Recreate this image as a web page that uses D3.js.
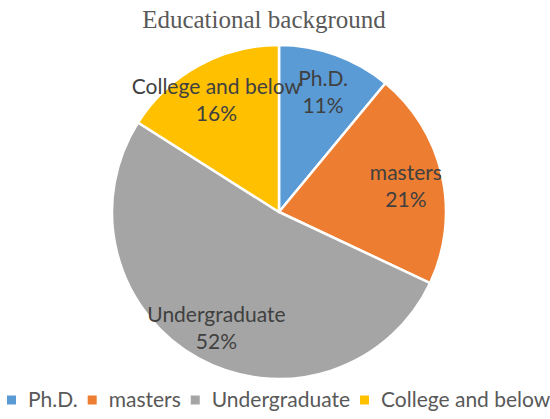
<!DOCTYPE html>
<html>
<head>
<meta charset="utf-8">
<script src="https://cdn.jsdelivr.net/npm/d3@7"></script>
<style>
  body { margin: 0; background: #fff; }
  svg { display: block; }
</style>
</head>
<body>
<div class="chart"></div>
<script>
var svgWidth = 550;
var svgHeight = 419;

// data
var categories = ["Ph.D.", "masters", "Undergraduate", "College and below"];
var shares = [11, 21, 52, 16];
var colors = ["#5B9BD5", "#ED7D31", "#A5A5A5", "#FFC000"];

var cx = 279, cy = 212, radius = 167;
var labelFont = "Lato, 'Open Sans', sans-serif";

var svg = d3.select(".chart")
  .append("svg")
  .attr("width", svgWidth)
  .attr("height", svgHeight);

// title
svg.append("text")
  .attr("x", 264)
  .attr("y", 28)
  .attr("text-anchor", "middle")
  .attr("font-family", "'Liberation Serif', 'Times New Roman', serif")
  .attr("font-size", 25)
  .attr("fill", "#595959")
  .text("Educational background");

var pieData = categories.map(function(c, i) {
  return { name: c, value: shares[i], color: colors[i] };
});

var pie = d3.pie()
  .sort(null)
  .value(d => d.value);

var arc = d3.arc().innerRadius(0).outerRadius(radius);
var labelArc = d3.arc().innerRadius(130).outerRadius(130);

var pieGroup = svg.append("g")
  .attr("transform", `translate(${cx}, ${cy})`);

var slices = pie(pieData);

pieGroup.selectAll("path")
  .data(slices)
  .enter()
  .append("path")
  .attr("d", arc)
  .attr("fill", d => d.data.color)
  .attr("stroke", "#fff")
  .attr("stroke-width", 2.5)
  .attr("stroke-linejoin", "round");

// data labels: name on first line, percent below
var labels = pieGroup.selectAll("text.lbl")
  .data(slices)
  .enter()
  .append("text")
  .attr("class", "lbl")
  .attr("transform", d => `translate(${labelArc.centroid(d)})`)
  .attr("text-anchor", "middle")
  .attr("font-family", labelFont)
  .attr("font-size", 21)
  .attr("fill", "#404040");

labels.append("tspan")
  .attr("x", 0)
  .attr("y", -4)
  .text(d => d.data.name);

labels.append("tspan")
  .attr("x", 0)
  .attr("y", 23)
  .text(d => d.data.value + "%");

// legend
var legend = svg.append("g")
  .attr("transform", "translate(7, 400)");

var xPos = 0;
categories.forEach(function(c, i) {
  var item = legend.append("g").attr("transform", `translate(${xPos}, 0)`);
  item.append("rect")
    .attr("x", 0)
    .attr("y", -4.5)
    .attr("width", 9)
    .attr("height", 9)
    .attr("fill", colors[i]);
  var t = item.append("text")
    .attr("x", 21)
    .attr("y", 0)
    .attr("dy", "0.35em")
    .attr("font-family", labelFont)
    .attr("font-size", 21)
    .attr("fill", "#595959")
    .text(c);
  xPos += 21 + t.node().getComputedTextLength() + 10;
});
</script>
</body>
</html>
